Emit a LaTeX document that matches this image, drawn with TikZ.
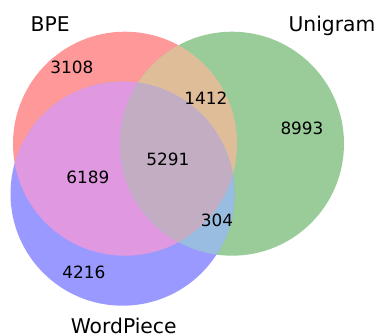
\documentclass[tikz,border=0pt]{standalone}
\usepackage{fontspec}
\setmainfont{DejaVu Sans}
\usetikzlibrary{positioning}

\definecolor{bpeonly}{RGB}{255,153,153}
\definecolor{unionly}{RGB}{153,204,153}
\definecolor{wponly}{RGB}{153,153,255}
\definecolor{bpeuni}{RGB}{224,189,153}
\definecolor{bpewp}{RGB}{224,153,224}
\definecolor{uniwp}{RGB}{153,189,224}
\definecolor{allthree}{RGB}{194,173,194}

\begin{document}
\begin{tikzpicture}[
  x=1pt, y=-1pt,
  setlabel/.style={anchor=base, inner sep=0pt, font=\fontsize{20.3}{22}\selectfont},
  count/.style={anchor=base, inner sep=0pt, font=\fontsize{16.9}{18}\selectfont}]
  \useasboundingbox (0,0) rectangle (382,336);

  % circle centres
  \coordinate (B) at (125,143.7);
  \coordinate (U) at (232,143.7);
  \coordinate (W) at (122.5,193.7);

  % single sets
  \fill[bpeonly] (B) circle[radius=112pt];
  \fill[unionly] (U) circle[radius=112pt];
  \fill[wponly] (W) circle[radius=112pt];

  % pairs
  \begin{scope}
    \clip (B) circle[radius=112pt];
    \fill[bpeuni] (U) circle[radius=112pt];
  \end{scope}
  \begin{scope}
    \clip (B) circle[radius=112pt];
    \fill[bpewp] (W) circle[radius=112pt];
  \end{scope}
  \begin{scope}
    \clip (U) circle[radius=112pt];
    \fill[uniwp] (W) circle[radius=112pt];
  \end{scope}
  % all three
  \begin{scope}
    \clip (B) circle[radius=112pt];
    \clip (U) circle[radius=112pt];
    \fill[allthree] (W) circle[radius=112pt];
  \end{scope}

  \node[setlabel] (bpe) at (50.2,31.7) {BPE};
  \node[setlabel] (uni) at (332,31.3) {Unigram};
  \node[setlabel] (wp) at (123.7,333.3) {WordPiece};

  \node[count] (nb) at (72,74) {3108};
  \node[count] (nbu) at (206,105) {1412};
  \node[count] (nu) at (302,135) {8993};
  \node[count] (nall) at (168,165.7) {5291};
  \node[count] (nbw) at (88,184) {6189};
  \node[count] (nuw) at (217,227) {304};
  \node[count] (nw) at (84,278) {4216};
\end{tikzpicture}
\end{document}
